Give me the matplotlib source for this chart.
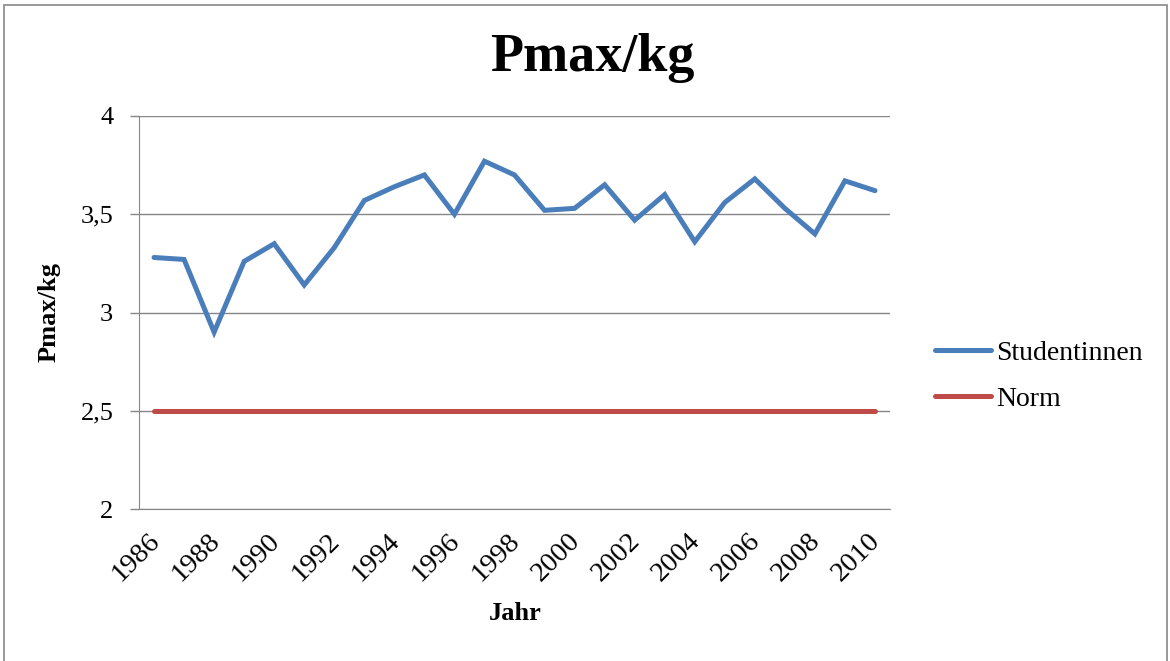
import numpy as np
import matplotlib.pyplot as plt
from matplotlib.patches import Rectangle
from matplotlib.transforms import ScaledTranslation

years = list(range(1986, 2011))
studentinnen = [3.28, 3.27, 2.90, 3.26, 3.35, 3.14, 3.33, 3.57, 3.64, 3.70,
                3.50, 3.77, 3.70, 3.52, 3.53, 3.65, 3.47, 3.60, 3.36, 3.56,
                3.68, 3.53, 3.40, 3.67, 3.62]
norm = [2.5] * len(years)
y_ticks = [2, 2.5, 3, 3.5, 4]
y_labels = ["2", "2,5", "3", "3,5", "4"]

plt.rcParams['font.family'] = ['Liberation Serif', 'DejaVu Serif']

fig = plt.figure(figsize=(11.7, 6.61), dpi=100)
ax = fig.add_axes([139 / 1170, 1 - 509 / 661, 751 / 1170, 393 / 661])

grid_col = "#868686"
ax.plot(years, studentinnen, color="#4A7EBB", lw=3.6, label="Studentinnen",
        solid_capstyle="round", solid_joinstyle="miter", zorder=3)
ax.plot(years, norm, color="#BE4B48", lw=3.6, label="Norm",
        solid_capstyle="round", zorder=3)

ax.set_xlim(1985.5, 2010.5)
ax.set_ylim(2, 4)
ax.set_yticks(y_ticks)
ax.set_yticklabels(y_labels, fontsize=19)
ax.set_xticks(years[::2])
ax.set_xticklabels([str(y) for y in years[::2]], fontsize=20.5, rotation=45,
                   ha="right", va="top", rotation_mode="anchor")
ax.tick_params(axis="x", length=0, pad=14)
ax.tick_params(axis="y", length=6.5, width=1, color=grid_col, pad=12)
# nudge the rotated year labels a little to the left
shift = ScaledTranslation(-0.07, 0, fig.dpi_scale_trans)
for lbl in ax.get_xticklabels():
    lbl.set_transform(lbl.get_transform() + shift)
ax.grid(axis="y", color=grid_col, lw=1)
for s in ["top", "right"]:
    ax.spines[s].set_visible(False)
ax.spines["left"].set_color(grid_col)
ax.spines["bottom"].set_color(grid_col)
ax.set_axisbelow(True)

fig.text(592 / 1170, 1 - 58 / 661, "Pmax/kg", fontsize=39, fontweight="bold",
         ha="center", va="center")
fig.text(49 / 1170, 1 - 312 / 661, "Pmax/kg", fontsize=19, fontweight="bold",
         rotation=90, ha="center", va="center")
fig.text(515 / 1170, 1 - 613 / 661, "Jahr", fontsize=19, fontweight="bold",
         ha="center", va="center")

ax.legend(loc="center left", bbox_to_anchor=(910 / 1170, 1 - 376 / 661),
          bbox_transform=fig.transFigure, frameon=False, fontsize=20,
          handlelength=2.0, handletextpad=0.2, labelspacing=0.75)

fig.patches.append(Rectangle((4 / 1170, -0.01), 1163 / 1170, 1 - 5 / 661 + 0.01,
                             transform=fig.transFigure, fill=False,
                             edgecolor="#888888", lw=1.2))

fig.savefig("out.png", dpi=100)
